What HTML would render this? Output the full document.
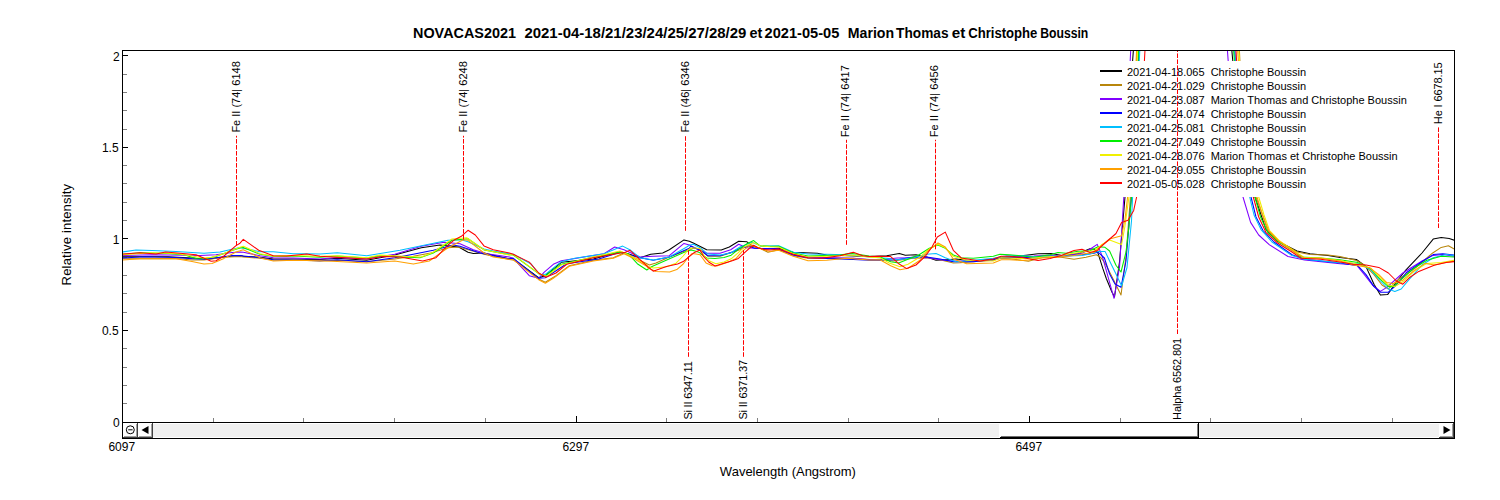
<!DOCTYPE html>
<html><head><meta charset="utf-8"><title>NOVACAS2021</title>
<style>
html,body{margin:0;padding:0;background:#fff;}
body{width:1500px;height:500px;overflow:hidden;font-family:"Liberation Sans",sans-serif;}
svg{display:block;}
text{font-family:"Liberation Sans",sans-serif;fill:#000;}
.ax{stroke:#000;stroke-width:1;shape-rendering:crispEdges;fill:none;}
.mn{stroke:#808080;stroke-width:1;shape-rendering:crispEdges;}
.cv{fill:none;stroke-width:1.05;stroke-linejoin:round;stroke-linecap:butt;}
.dl{stroke:#ff0000;stroke-width:1;stroke-dasharray:4.6 1.4;fill:none;}
.lb{font-size:11px;}
.tk{font-size:12px;}
.at{font-size:13px;}
</style></head>
<body>
<svg width="1500" height="500" viewBox="0 0 1500 500">
<defs><clipPath id="pc"><rect x="123" y="51" width="1331" height="371"/></clipPath></defs>
<rect x="0" y="0" width="1500" height="500" fill="#ffffff"/>
<text class="tk" x="119.6" y="426.6" text-anchor="end">0</text>
<rect x="123" y="403" width="4" height="1" fill="#808080"/>
<rect x="123" y="385" width="4" height="1" fill="#808080"/>
<rect x="123" y="367" width="4" height="1" fill="#808080"/>
<rect x="123" y="348" width="4" height="1" fill="#808080"/>
<rect x="123" y="330" width="5" height="1" fill="#000"/>
<text class="tk" x="118.6" y="334.6" text-anchor="end">0.5</text>
<rect x="123" y="312" width="4" height="1" fill="#808080"/>
<rect x="123" y="293" width="4" height="1" fill="#808080"/>
<rect x="123" y="275" width="4" height="1" fill="#808080"/>
<rect x="123" y="257" width="4" height="1" fill="#808080"/>
<rect x="123" y="238" width="5" height="1" fill="#000"/>
<text class="tk" x="119.5" y="243.6" text-anchor="end">1</text>
<rect x="123" y="220" width="4" height="1" fill="#808080"/>
<rect x="123" y="202" width="4" height="1" fill="#808080"/>
<rect x="123" y="183" width="4" height="1" fill="#808080"/>
<rect x="123" y="165" width="4" height="1" fill="#808080"/>
<rect x="123" y="147" width="5" height="1" fill="#000"/>
<text class="tk" x="118.6" y="151.6" text-anchor="end">1.5</text>
<rect x="123" y="129" width="4" height="1" fill="#808080"/>
<rect x="123" y="110" width="4" height="1" fill="#808080"/>
<rect x="123" y="92" width="4" height="1" fill="#808080"/>
<rect x="123" y="74" width="4" height="1" fill="#808080"/>
<rect x="123" y="55" width="5" height="1" fill="#000"/>
<text class="tk" x="119.6" y="60.7" text-anchor="end">2</text>
<text class="tk" x="121.8" y="451" text-anchor="middle">6097</text>
<rect x="213" y="418" width="1" height="4" fill="#808080"/>
<rect x="303" y="418" width="1" height="4" fill="#808080"/>
<rect x="394" y="418" width="1" height="4" fill="#808080"/>
<rect x="485" y="418" width="1" height="4" fill="#808080"/>
<rect x="576" y="416" width="1" height="6" fill="#000"/>
<text class="tk" x="575.8" y="451" text-anchor="middle">6297</text>
<rect x="666" y="418" width="1" height="4" fill="#808080"/>
<rect x="757" y="418" width="1" height="4" fill="#808080"/>
<rect x="848" y="418" width="1" height="4" fill="#808080"/>
<rect x="938" y="418" width="1" height="4" fill="#808080"/>
<rect x="1029" y="416" width="1" height="6" fill="#000"/>
<text class="tk" x="1028.8" y="451" text-anchor="middle">6497</text>
<rect x="1120" y="418" width="1" height="4" fill="#808080"/>
<rect x="1210" y="418" width="1" height="4" fill="#808080"/>
<rect x="1301" y="418" width="1" height="4" fill="#808080"/>
<rect x="1392" y="418" width="1" height="4" fill="#808080"/>
<g clip-path="url(#pc)">
<polyline class="cv" stroke="#000000" points="122.0,256.8 168.0,256.8 192.0,258.0 208.0,259.2 220.0,257.6 232.0,256.0 240.0,255.6 243.3,256.3 260.0,257.3 273.3,259.0 293.3,259.0 320.0,259.4 337.3,258.3 366.7,260.3 394.7,255.0 421.3,247.7 440.0,245.0 458.7,247.0 468.0,252.3 473.3,253.4 484.0,253.0 509.3,259.0 513.3,259.0 538.7,277.7 545.3,275.7 561.3,262.3 593.3,259.0 620.0,251.7 628.0,253.7 640.0,257.7 650.7,254.3 662.7,253.0 669.3,249.7 684.0,239.9 689.3,241.3 693.3,243.0 706.7,249.7 721.3,250.1 729.3,247.0 738.7,241.3 746.7,241.7 752.7,246.3 762.7,249.0 778.7,248.3 793.3,252.3 817.3,253.3 826.7,255.0 869.3,256.5 886.7,255.7 899.3,253.4 905.3,255.3 916.0,254.7 926.7,257.0 936.0,260.3 946.7,259.7 956.0,259.0 973.3,261.0 993.3,259.0 1006.7,257.0 1009.3,256.9 1026.0,255.2 1038.0,253.8 1051.6,253.6 1062.0,255.6 1078.0,253.6 1090.0,248.8 1094.0,249.2 1098.0,253.2 1102.8,268.4 1106.3,278.5 1111.8,291.7 1114.5,297.0 1119.5,262.0 1125.0,197.0 1132.6,61.0 1133.4,50.0 1134.1,40.0"/>
<polyline class="cv" stroke="#000000" points="1230.9,40.0 1231.8,50.0 1232.8,61.0 1255.0,197.0 1258.7,208.0 1266.0,229.6 1277.6,241.3 1297.0,251.0 1310.0,253.8 1328.0,255.6 1340.0,257.4 1356.4,259.4 1366.0,266.6 1374.0,284.2 1380.4,295.1 1387.6,294.6 1394.8,284.2 1406.0,269.8 1422.0,253.0 1433.2,239.1 1441.2,237.5 1449.2,238.6 1454.8,240.4"/>
<polyline class="cv" stroke="#b8860b" points="122.0,258.8 176.0,258.4 192.0,260.0 204.0,260.0 224.0,257.2 240.0,256.4 243.3,257.0 260.0,258.3 273.3,259.9 293.3,259.9 320.0,261.0 337.3,260.3 366.7,261.7 394.7,259.0 413.3,256.3 430.7,253.0 448.0,247.7 458.7,247.0 484.0,254.3 509.3,259.4 513.3,259.9 526.7,269.7 538.7,279.0 545.3,282.3 556.0,275.7 569.3,265.7 593.3,260.3 613.3,257.7 624.0,253.0 633.3,257.0 649.3,265.0 656.0,263.0 669.3,257.0 686.7,250.3 689.3,249.7 693.3,248.3 700.0,249.0 708.0,256.3 720.0,256.3 740.0,249.7 749.3,245.0 760.0,248.3 768.0,252.3 778.7,249.7 793.3,255.7 808.0,258.3 853.3,258.3 869.3,259.7 880.0,259.7 893.3,261.0 913.3,258.3 926.7,257.7 940.0,259.7 953.3,263.0 960.0,262.7 973.3,261.7 993.3,260.3 1001.3,258.3 1009.3,258.7 1028.4,261.2 1042.0,257.6 1058.0,256.8 1074.0,259.2 1086.0,257.2 1096.4,254.8 1100.4,257.2 1105.0,263.0 1114.0,280.7 1121.0,295.0 1126.0,256.5 1130.4,197.0 1136.6,61.0 1137.0,50.0 1137.4,40.0"/>
<polyline class="cv" stroke="#b8860b" points="1238.9,40.0 1239.4,50.0 1239.9,61.0 1256.0,197.0 1261.4,211.6 1267.7,230.5 1279.0,241.3 1297.0,252.0 1310.0,254.4 1328.0,255.1 1340.0,256.5 1356.4,260.5 1364.4,265.0 1374.0,274.6 1382.0,285.0 1388.4,289.0 1396.4,281.0 1414.0,269.0 1431.6,253.8 1441.2,247.4 1448.4,245.8 1454.8,249.3"/>
<polyline class="cv" stroke="#8000ff" points="122.0,255.6 152.0,254.8 184.0,255.2 200.0,255.6 216.0,254.8 232.0,252.4 240.0,252.0 243.3,252.3 260.0,255.7 273.3,257.7 293.3,258.1 320.0,259.0 337.3,257.4 366.7,259.0 394.7,254.3 421.3,246.3 444.0,242.3 460.0,243.7 473.3,249.7 486.7,253.7 509.3,257.0 513.3,258.3 529.3,275.7 538.7,278.3 544.0,272.3 553.3,264.3 561.3,260.7 604.0,253.7 614.7,247.0 624.0,249.7 640.0,257.0 653.3,256.3 669.3,255.7 684.0,243.4 689.3,245.0 693.3,247.0 706.7,253.3 720.0,253.3 730.7,249.7 738.7,244.3 746.7,247.7 754.7,248.3 778.7,249.0 793.3,255.0 808.0,257.0 853.3,258.3 869.3,259.4 880.0,259.7 897.3,257.9 913.3,257.7 926.7,257.4 940.0,259.7 953.3,261.0 973.3,261.0 993.3,259.7 1001.3,257.7 1009.3,257.7 1022.0,256.2 1034.0,256.0 1050.0,255.2 1066.0,255.6 1082.0,253.2 1090.0,249.2 1097.2,244.4 1100.4,251.6 1103.0,258.7 1114.0,298.3 1119.5,267.5 1123.8,197.0 1130.2,61.0 1130.7,50.0 1131.2,40.0"/>
<polyline class="cv" stroke="#8000ff" points="1226.6,40.0 1227.4,50.0 1228.2,61.0 1243.0,197.0 1250.6,222.4 1258.7,235.0 1269.5,244.9 1288.0,256.5 1304.5,260.0 1340.0,263.7 1356.4,265.0 1364.4,274.6 1372.4,285.0 1380.4,291.4 1386.8,287.4 1402.8,273.0 1422.0,261.0 1433.2,255.4 1442.8,254.6 1454.8,256.4"/>
<polyline class="cv" stroke="#0000ff" points="122.0,258.0 144.0,256.8 176.0,257.4 192.0,258.8 204.0,259.2 220.0,257.2 232.0,255.6 240.0,255.6 243.3,255.9 260.0,257.7 273.3,259.7 293.3,259.9 320.0,260.7 337.3,259.7 366.7,261.7 394.7,257.7 413.3,254.3 433.3,250.3 453.3,245.0 460.0,246.3 480.0,253.0 509.3,258.7 513.3,258.3 538.7,278.3 545.3,277.7 566.7,263.7 598.7,259.0 620.0,252.3 640.0,257.7 653.3,260.3 669.3,257.0 689.3,248.3 690.7,246.3 700.0,250.3 708.0,255.7 720.0,255.7 733.3,251.7 740.0,248.3 749.3,246.3 754.7,248.3 778.7,249.0 793.3,255.0 808.0,257.7 853.3,259.4 869.3,260.3 880.0,260.3 897.3,259.7 913.3,257.0 926.7,257.0 940.0,259.0 953.3,261.7 973.3,261.7 993.3,259.7 1001.3,257.7 1009.3,257.7 1022.0,257.2 1034.0,258.0 1050.0,256.4 1066.0,256.0 1082.0,254.8 1094.0,253.2 1098.0,252.1 1104.4,258.0 1109.6,274.0 1115.0,284.0 1121.0,287.3 1126.0,261.0 1130.4,208.0 1131.5,197.0 1138.5,61.0 1139.0,50.0 1139.5,40.0"/>
<polyline class="cv" stroke="#0000ff" points="1234.3,40.0 1234.8,50.0 1235.4,61.0 1251.0,197.0 1256.0,217.0 1263.0,230.5 1274.0,242.0 1292.0,254.7 1304.5,259.2 1340.0,263.0 1358.0,265.8 1366.0,274.6 1374.0,286.6 1380.4,292.2 1388.4,292.2 1396.4,285.0 1406.0,273.0 1422.0,261.8 1433.2,254.6 1442.8,253.8 1454.8,255.2"/>
<polyline class="cv" stroke="#00bfff" points="122.0,252.0 136.0,250.0 152.0,250.4 176.0,251.6 204.0,253.2 220.0,252.0 232.0,249.2 240.0,247.6 243.3,248.3 260.0,251.7 273.3,251.7 293.3,253.7 306.7,253.7 320.0,254.1 337.3,252.7 366.7,255.7 400.0,250.3 448.0,240.3 461.3,239.7 468.0,241.7 484.0,249.0 493.3,251.0 509.3,253.7 513.3,254.3 530.7,263.7 540.0,275.0 545.3,274.3 561.3,261.7 574.7,258.3 604.0,253.7 622.7,246.1 630.7,250.3 640.0,257.7 653.3,259.9 669.3,257.0 686.7,247.0 689.3,245.3 693.3,244.3 700.0,247.7 708.0,254.1 720.0,255.0 730.7,253.0 740.0,247.0 752.0,242.3 761.3,246.3 778.7,245.7 793.3,252.3 808.0,254.1 826.7,254.3 853.3,255.0 869.3,257.0 886.7,258.3 897.3,259.7 913.3,257.7 926.7,254.3 936.0,253.4 945.3,257.7 956.0,261.7 973.3,260.3 993.3,258.3 1006.7,255.7 1009.3,255.7 1022.0,255.6 1034.0,256.8 1050.0,256.0 1066.0,256.0 1082.0,255.6 1090.0,254.0 1098.0,251.4 1105.2,251.6 1109.6,261.0 1116.0,274.0 1121.6,286.0 1127.0,267.5 1131.5,221.0 1132.6,197.0 1139.3,61.0 1139.8,50.0 1140.3,40.0"/>
<polyline class="cv" stroke="#00bfff" points="1234.1,40.0 1234.6,50.0 1235.2,61.0 1249.7,197.0 1254.0,215.0 1261.0,229.6 1272.0,242.0 1292.0,255.6 1304.5,259.2 1340.0,262.8 1358.0,263.4 1370.8,269.8 1380.4,281.0 1388.4,289.0 1394.8,291.4 1401.2,289.0 1409.2,279.4 1422.0,265.0 1433.2,257.8 1446.0,254.6 1454.8,255.6"/>
<polyline class="cv" stroke="#00ee00" points="122.0,254.4 140.0,252.8 168.0,253.6 184.0,254.8 196.0,258.4 204.0,258.8 216.0,256.4 232.0,250.4 240.0,248.0 243.3,247.4 260.0,254.3 273.3,256.3 293.3,255.9 320.0,257.3 337.3,256.1 366.7,257.9 380.0,255.7 402.7,257.0 420.0,257.7 433.3,253.0 452.0,240.3 468.0,238.7 484.0,249.9 509.3,254.7 513.3,255.0 538.7,273.7 545.3,275.7 561.3,264.3 593.3,257.0 620.0,252.3 628.0,253.7 637.3,263.7 646.8,270.0 652.0,266.4 669.6,258.8 684.8,252.0 691.2,250.0 696.0,251.2 700.0,252.8 700.6,253.9 706.9,257.9 715.0,258.4 724.0,257.5 731.2,255.2 738.4,249.4 747.4,243.5 753.7,240.6 760.0,245.8 770.0,246.2 778.7,246.3 793.3,253.0 808.0,255.9 840.0,255.0 850.7,253.3 869.3,255.9 880.0,257.0 890.7,261.7 898.7,263.0 906.7,259.7 918.7,255.0 929.3,248.3 938.0,245.0 945.3,248.3 953.3,255.0 961.3,257.7 973.3,258.3 993.3,256.3 1000.0,254.3 1009.3,254.7 1022.0,256.0 1034.0,257.2 1050.0,254.8 1058.0,252.4 1066.0,253.2 1078.0,251.2 1090.0,250.8 1098.0,246.8 1105.0,247.3 1109.6,251.0 1116.0,265.3 1121.0,272.0 1126.0,252.0 1129.0,226.0 1131.5,197.0 1138.1,61.0 1138.6,50.0 1139.1,40.0"/>
<polyline class="cv" stroke="#00ee00" points="1232.9,40.0 1233.6,50.0 1234.4,61.0 1255.0,197.0 1260.5,217.0 1267.7,232.3 1277.6,241.3 1292.0,250.2 1301.0,257.0 1320.7,258.0 1340.0,259.8 1358.0,262.6 1370.8,269.0 1380.4,279.4 1388.4,286.6 1393.2,286.6 1399.6,281.0 1414.0,268.2 1426.8,260.2 1441.2,256.2 1454.8,257.0"/>
<polyline class="cv" stroke="#f0f000" points="122.0,254.8 152.0,252.8 176.0,253.6 192.0,256.0 204.0,258.0 212.0,257.2 224.0,253.6 240.0,247.2 243.3,246.3 260.0,253.7 273.3,255.9 293.3,255.4 320.0,256.3 337.3,255.7 366.7,257.7 380.0,255.0 402.7,256.3 421.3,257.0 433.3,252.3 452.0,239.0 466.7,237.7 484.0,249.7 509.3,255.0 513.3,254.6 540.0,274.3 546.7,276.3 561.3,265.0 593.3,257.0 620.0,251.0 633.3,257.0 646.7,265.0 648.0,266.4 653.6,268.0 666.4,266.8 676.0,263.2 683.2,256.0 688.0,250.0 691.2,248.0 696.0,248.0 700.0,248.8 704.2,256.1 709.6,261.1 715.9,263.8 724.0,262.0 731.2,258.8 737.5,253.4 744.7,246.7 753.7,242.6 760.0,245.8 770.0,246.7 778.7,247.0 793.3,253.7 808.0,257.0 840.0,255.7 853.3,255.0 869.3,257.3 880.0,257.7 889.3,263.0 900.0,266.7 908.0,264.3 920.0,257.0 929.3,249.0 938.0,244.3 945.3,247.7 953.3,256.3 966.7,260.3 993.3,261.0 1001.3,257.7 1009.3,257.9 1026.0,258.8 1042.0,257.2 1058.0,256.0 1074.0,253.2 1086.0,251.6 1094.0,250.8 1098.0,248.0 1102.0,244.4 1109.6,240.0 1121.6,244.5 1125.0,225.8 1128.0,204.0 1128.9,197.0 1137.1,61.0 1137.6,50.0 1138.1,40.0"/>
<polyline class="cv" stroke="#f0f000" points="1238.1,40.0 1238.8,50.0 1239.6,61.0 1258.7,197.0 1264.0,215.0 1269.5,230.5 1279.0,240.4 1297.0,253.0 1304.5,257.4 1320.7,258.0 1340.0,260.5 1358.0,264.2 1370.8,268.2 1380.4,277.8 1388.4,285.0 1394.8,286.6 1402.8,281.8 1414.0,271.4 1426.8,263.4 1441.2,262.6 1454.8,260.2"/>
<polyline class="cv" stroke="#ffa000" points="122.0,260.0 140.0,258.8 176.0,258.8 192.0,261.6 204.0,264.0 212.0,263.6 224.0,258.4 236.0,252.0 240.0,250.8 243.3,249.7 260.0,257.7 273.3,261.0 293.3,260.3 320.0,260.7 337.3,261.4 366.7,263.0 394.7,261.0 413.3,264.1 429.3,261.0 448.0,247.7 463.3,239.7 468.0,240.3 484.0,253.0 493.3,257.0 509.3,259.3 513.3,259.7 526.7,270.3 538.7,279.7 545.3,283.3 553.3,278.3 569.3,266.3 593.3,261.0 613.3,258.3 624.0,253.7 633.3,258.3 646.7,266.3 648.0,268.0 656.0,271.6 669.6,272.0 676.8,269.6 683.2,264.0 688.0,257.6 692.0,253.6 696.0,254.0 700.0,254.8 706.0,262.9 712.3,265.8 716.8,266.0 728.5,262.0 735.7,258.8 742.0,251.6 747.4,247.1 751.9,244.9 756.4,247.1 763.6,249.8 770.0,251.4 778.7,250.3 793.3,256.3 808.0,260.7 826.7,260.3 846.7,258.3 869.3,259.9 880.0,259.7 890.7,265.7 900.0,269.7 908.0,268.3 920.0,260.3 929.3,249.7 938.0,243.0 945.3,247.0 953.3,259.0 966.7,263.7 993.3,263.0 1001.3,259.7 1009.3,259.7 1022.0,260.4 1030.0,260.0 1042.0,258.0 1058.0,257.2 1074.0,255.6 1086.0,253.6 1094.0,252.4 1098.0,248.8 1102.0,245.2 1109.6,239.0 1121.6,235.7 1125.0,219.0 1127.6,197.0 1136.1,61.0 1136.6,50.0 1137.1,40.0"/>
<polyline class="cv" stroke="#ffa000" points="1236.9,40.0 1237.6,50.0 1238.4,61.0 1257.0,197.0 1262.0,213.4 1268.6,230.5 1279.0,241.3 1297.0,253.8 1304.5,258.0 1320.7,258.3 1340.0,261.0 1353.2,265.0 1369.2,267.4 1378.8,274.6 1386.8,282.6 1393.2,283.4 1402.8,280.2 1414.0,270.6 1425.2,263.4 1434.8,265.0 1446.0,262.6 1454.8,261.0"/>
<polyline class="cv" stroke="#ff0000" points="122.0,254.0 140.0,252.8 156.0,254.0 165.6,252.0 180.0,253.2 196.0,254.8 211.2,261.2 216.0,260.8 224.0,256.0 236.0,245.6 240.0,243.2 243.3,239.4 258.7,250.3 273.3,255.7 286.7,255.9 306.7,254.1 320.0,256.3 366.7,259.0 382.7,256.6 400.0,257.0 422.7,261.0 436.0,257.7 448.0,245.0 454.7,239.7 461.3,236.3 468.0,230.3 475.3,235.0 484.0,245.9 493.3,249.7 509.3,253.0 513.3,254.3 529.3,262.1 538.7,273.0 546.0,277.3 556.0,273.0 566.7,264.3 593.3,257.7 625.3,252.3 630.0,250.3 640.0,259.7 648.0,266.8 653.2,271.2 666.4,266.4 677.6,264.0 683.2,261.6 688.0,257.6 694.4,252.4 700.0,250.0 703.3,256.1 708.7,262.0 715.0,266.0 724.0,263.3 733.0,260.6 738.4,258.4 743.8,253.4 749.2,248.5 753.7,245.3 758.2,248.0 764.5,249.4 770.0,250.0 778.7,249.0 793.3,254.3 808.0,257.7 821.3,258.3 840.0,255.7 853.3,252.3 862.7,255.7 869.3,256.5 877.3,256.3 890.7,256.6 898.7,263.7 906.7,268.6 916.0,265.0 925.3,256.3 932.0,247.0 937.3,237.0 945.3,232.1 953.3,250.3 961.3,257.9 980.0,261.0 993.3,259.0 1001.3,256.3 1009.3,256.3 1022.0,257.6 1038.0,260.4 1050.0,258.4 1062.0,255.2 1074.0,250.4 1082.0,249.2 1090.0,252.4 1098.0,250.4 1098.6,248.8 1107.4,241.0 1116.0,233.5 1121.6,222.5 1128.0,220.3 1133.7,210.4 1136.6,197.0 1144.4,61.0 1145.0,50.0 1145.6,40.0"/>
<polyline class="cv" stroke="#ff0000" points="1235.5,40.0 1236.0,50.0 1236.6,61.0 1253.3,197.0 1258.7,217.0 1265.9,232.3 1277.6,243.0 1292.0,252.0 1301.0,258.3 1320.7,259.2 1340.0,262.0 1353.2,264.2 1366.0,265.0 1378.8,267.4 1388.4,273.0 1396.4,281.0 1402.8,284.2 1409.2,277.8 1418.8,271.4 1434.8,265.0 1446.0,262.6 1454.8,261.5"/>
</g>
<rect x="1095" y="61" width="322" height="136" fill="#ffffff"/>
<line x1="1100" y1="71" x2="1122" y2="71" stroke="#000000" stroke-width="2" shape-rendering="crispEdges"/>
<text class="lb" x="1126.9" y="75.6" xml:space="preserve" style="white-space:pre">2021-04-18.065  Christophe Boussin</text>
<line x1="1100" y1="85" x2="1122" y2="85" stroke="#b8860b" stroke-width="2" shape-rendering="crispEdges"/>
<text class="lb" x="1126.9" y="89.6" xml:space="preserve" style="white-space:pre">2021-04-21.029  Christophe Boussin</text>
<line x1="1100" y1="99" x2="1122" y2="99" stroke="#8000ff" stroke-width="2" shape-rendering="crispEdges"/>
<text class="lb" x="1126.9" y="103.6" xml:space="preserve" style="white-space:pre">2021-04-23.087  Marion Thomas and Christophe Boussin</text>
<line x1="1100" y1="113" x2="1122" y2="113" stroke="#0000ff" stroke-width="2" shape-rendering="crispEdges"/>
<text class="lb" x="1126.9" y="117.6" xml:space="preserve" style="white-space:pre">2021-04-24.074  Christophe Boussin</text>
<line x1="1100" y1="127" x2="1122" y2="127" stroke="#00bfff" stroke-width="2" shape-rendering="crispEdges"/>
<text class="lb" x="1126.9" y="131.6" xml:space="preserve" style="white-space:pre">2021-04-25.081  Christophe Boussin</text>
<line x1="1100" y1="141" x2="1122" y2="141" stroke="#00ee00" stroke-width="2" shape-rendering="crispEdges"/>
<text class="lb" x="1126.9" y="145.6" xml:space="preserve" style="white-space:pre">2021-04-27.049  Christophe Boussin</text>
<line x1="1100" y1="155" x2="1122" y2="155" stroke="#f0f000" stroke-width="2" shape-rendering="crispEdges"/>
<text class="lb" x="1126.9" y="159.6" xml:space="preserve" style="white-space:pre">2021-04-28.076  Marion Thomas et Christophe Boussin</text>
<line x1="1100" y1="169" x2="1122" y2="169" stroke="#ffa000" stroke-width="2" shape-rendering="crispEdges"/>
<text class="lb" x="1126.9" y="173.6" xml:space="preserve" style="white-space:pre">2021-04-29.055  Christophe Boussin</text>
<line x1="1100" y1="183" x2="1122" y2="183" stroke="#ff0000" stroke-width="2" shape-rendering="crispEdges"/>
<text class="lb" x="1126.9" y="187.6" xml:space="preserve" style="white-space:pre">2021-05-05.028  Christophe Boussin</text>
<line class="dl" x1="236.5" y1="245.6" x2="236.5" y2="135.8"/>
<text class="lb" transform="translate(239.5,132.6) rotate(-90)" letter-spacing="0">Fe II (74| 6148</text>
<line class="dl" x1="463.5" y1="239.6" x2="463.5" y2="135.8"/>
<text class="lb" transform="translate(466.5,132.6) rotate(-90)" letter-spacing="0">Fe II (74| 6248</text>
<line class="dl" x1="685.5" y1="230.8" x2="685.5" y2="135.8"/>
<text class="lb" transform="translate(688.5,132.6) rotate(-90)" letter-spacing="0">Fe II (46| 6346</text>
<line class="dl" x1="846.5" y1="244.8" x2="846.5" y2="139.8"/>
<text class="lb" transform="translate(849.2,137.2) rotate(-90)" letter-spacing="0.05">Fe II (74| 6417</text>
<line class="dl" x1="935.5" y1="249.3" x2="935.5" y2="139.8"/>
<text class="lb" transform="translate(938.2,137.2) rotate(-90)" letter-spacing="0.05">Fe II (74| 6456</text>
<line class="dl" x1="1438.5" y1="228" x2="1438.5" y2="127"/>
<text class="lb" transform="translate(1441.5,124.2) rotate(-90)" letter-spacing="-0.1">He I 6678.15</text>
<line class="dl" x1="688.5" y1="250.2" x2="688.5" y2="356.8"/>
<text class="lb" transform="translate(691.5,419.6) rotate(-90)" letter-spacing="-0.21">Si II 6347.11</text>
<line class="dl" x1="743.5" y1="250.2" x2="743.5" y2="356.8"/>
<text class="lb" transform="translate(746.5,419.6) rotate(-90)" letter-spacing="-0.17">Si II 6371.37</text>
<line class="dl" x1="1177.5" y1="334" x2="1177.5" y2="51"/>
<text class="lb" transform="translate(1180.5,419.9) rotate(-90)" letter-spacing="-0.13">Halpha 6562.801</text>
<rect x="123" y="423" width="1331" height="15" fill="#ffffff"/>
<rect x="153" y="424" width="1286" height="13" fill="#f0f0f0"/>
<rect x="123" y="423" width="15" height="15" fill="#ffffff"/>
<rect x="137" y="423" width="1" height="15" fill="#404040"/>
<rect x="123" y="437" width="15" height="1" fill="#404040"/>
<rect x="136" y="424" width="1" height="13" fill="#a0a0a0"/>
<rect x="124" y="436" width="13" height="1" fill="#a0a0a0"/>
<rect x="138" y="423" width="15" height="15" fill="#ffffff"/>
<rect x="152" y="423" width="1" height="15" fill="#404040"/>
<rect x="138" y="437" width="15" height="1" fill="#404040"/>
<rect x="151" y="424" width="1" height="13" fill="#a0a0a0"/>
<rect x="139" y="436" width="13" height="1" fill="#a0a0a0"/>
<rect x="1439" y="423" width="15" height="15" fill="#ffffff"/>
<rect x="1453" y="423" width="1" height="15" fill="#404040"/>
<rect x="1439" y="437" width="15" height="1" fill="#404040"/>
<rect x="1452" y="424" width="1" height="13" fill="#a0a0a0"/>
<rect x="1440" y="436" width="13" height="1" fill="#a0a0a0"/>
<rect x="999" y="423" width="200" height="15" fill="#ffffff"/>
<rect x="1198" y="423" width="1" height="15" fill="#000000"/>
<rect x="1197" y="424" width="1" height="13" fill="#808080"/>
<rect x="1001" y="436" width="197" height="1" fill="#707070"/>
<rect x="1000" y="437" width="199" height="1" fill="#000000"/>
<circle cx="130.3" cy="429.8" r="4" fill="none" stroke="#000" stroke-width="1"/>
<rect x="128.2" y="429.3" width="4.4" height="1" fill="#000"/>
<path d="M141.5 430 L148.5 426 L148.5 434 Z" fill="#000"/>
<path d="M1450.5 430 L1443.5 426 L1443.5 434 Z" fill="#000"/>
<rect class="ax" x="122.5" y="50.5" width="1332" height="372"/>
<path class="ax" d="M122.5 422.5 V438.5 H1454.5 V422.5"/>
<text x="413.00" y="38" font-size="14" font-weight="bold" textLength="103.00" lengthAdjust="spacingAndGlyphs">NOVACAS2021</text>
<text x="524.40" y="38" font-size="14" font-weight="bold" textLength="222.00" lengthAdjust="spacingAndGlyphs">2021-04-18/21/23/24/25/27/28/29</text>
<text x="749.60" y="38" font-size="14" font-weight="bold" textLength="12.80" lengthAdjust="spacingAndGlyphs">et</text>
<text x="764.60" y="38" font-size="14" font-weight="bold" textLength="74.70" lengthAdjust="spacingAndGlyphs">2021-05-05</text>
<text x="847.80" y="38" font-size="14" font-weight="bold" textLength="46.30" lengthAdjust="spacingAndGlyphs">Marion</text>
<text x="896.10" y="38" font-size="14" font-weight="bold" textLength="52.40" lengthAdjust="spacingAndGlyphs">Thomas</text>
<text x="951.80" y="38" font-size="14" font-weight="bold" textLength="13.50" lengthAdjust="spacingAndGlyphs">et</text>
<text x="968.20" y="38" font-size="14" font-weight="bold" textLength="69.20" lengthAdjust="spacingAndGlyphs">Christophe</text>
<text x="1040.20" y="38" font-size="14" font-weight="bold" textLength="48.10" lengthAdjust="spacingAndGlyphs">Boussin</text>
<text class="at" x="787.9" y="476" text-anchor="middle">Wavelength (Angstrom)</text>
<text class="at" transform="translate(71.3,285.4) rotate(-90)" letter-spacing="0.19">Relative intensity</text>
</svg>
</body></html>
